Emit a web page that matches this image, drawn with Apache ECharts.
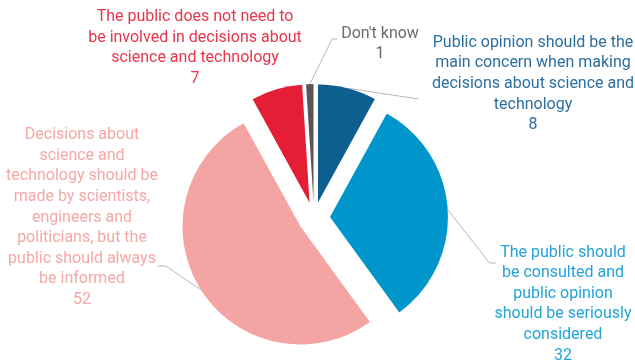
<!DOCTYPE html>
<html>
<head>
<meta charset="utf-8">
<script src="https://cdn.jsdelivr.net/npm/echarts@6/dist/echarts.min.js"></script>
<style>
  html, body { margin: 0; padding: 0; background: #ffffff; }
  #chart { width: 635px; height: 363px; }
</style>
</head>
<body>
<div id="chart"></div>
<script>
// Answer categories (line breaks are how each label wraps)
const categories = [
  'Public opinion should be the\nmain concern when making\ndecisions about science and\ntechnology',
  'The public should\nbe consulted and\npublic opinion\nshould be seriously\nconsidered',
  'Decisions about\nscience and\ntechnology should be\nmade by scientists,\nengineers and\npoliticians, but the\npublic should always\nbe informed',
  'The public does not need to\nbe involved in decisions about\nscience and technology',
  "Don't know"
];
// Share of respondents (%)
const values = [8, 32, 52, 7, 1];

const sliceColors = ['#0d5f8f', '#0096cb', '#f4a5a3', '#e41f35', '#5d5458'];
const textColors  = ['#2b6fa0', '#22a3d9', '#f5a8a6', '#e8354b', '#6b6b6b'];

// Pie geometry
const CENTER = [314, 218];
const RADIUS = 118;
const EXPLODE = 16;
const LINE_H = 20.6;

// Label block centres and leader-line shapes, relative to the label box
const labelPlace = [
  { x: 533, y: 84,    line: (p, r) => [p, [r.x - 13, r.y + r.h * 0.5 + 15]] },
  { x: 563, y: 304,   line: (p, r) => [p, [r.x - 5, r.y + r.h * 0.5 - 41], [r.x + 2, r.y + r.h * 0.5 - 41]] },
  { x: 82,  y: 217.5, line: (p, r) => [p, [r.x + r.w + 8, r.y + r.h * 0.5 + 48.5], [r.x + r.w, r.y + r.h * 0.5 + 48.5]] },
  { x: 195, y: 48,    line: null },
  { x: 380, y: 44,    line: (p, r) => [p, [r.x - 9, r.y + r.h * 0.5 - 5], [r.x - 4, r.y + r.h * 0.5 - 5]] }
];

const total = values.reduce((a, b) => a + b, 0);
let acc = 0;

// One series per slice so every slice is pushed out along its own mid-angle
const series = values.map((v, i) => {
  const mid = (acc + v / 2) / total * Math.PI * 2;
  acc += v;
  const cx = CENTER[0] + EXPLODE * Math.sin(mid);
  const cy = CENTER[1] - EXPLODE * Math.cos(mid);
  return {
    type: 'pie',
    center: [cx, cy],
    radius: RADIUS,
    startAngle: 90,
    clockwise: true,
    avoidLabelOverlap: false,
    silent: true,
    animation: false,
    data: values.map((val, j) => ({
      value: val,
      name: categories[j],
      itemStyle: { color: j === i ? sliceColors[j] : 'rgba(0,0,0,0)', borderWidth: 0 },
      label: {
        show: j === i,
        formatter: '{b}\n{c}',
        color: textColors[j],
        fontFamily: 'Roboto',
        fontSize: 16,
        lineHeight: LINE_H,
        align: 'center'
      },
      labelLine: {
        show: j === i && labelPlace[j].line !== null,
        lineStyle: { color: '#b9b9b9', width: 1 }
      }
    })),
    labelLayout: function (params) {
      if (params.dataIndex !== i) return {};
      const place = labelPlace[i];
      const w = params.labelRect.width;
      const h = params.labelRect.height;
      const r = { x: place.x - w / 2, y: place.y - h / 2, w: w, h: h };
      const out = { x: place.x, y: place.y, align: 'center', verticalAlign: 'middle' };
      if (place.line && params.labelLinePoints) {
        out.labelLinePoints = place.line(params.labelLinePoints[0], r);
      }
      return out;
    }
  };
});

const chart = echarts.init(document.getElementById('chart'), null, { renderer: 'canvas' });
chart.setOption({
  backgroundColor: '#ffffff',
  animation: false,
  series: series
});
</script>
</body>
</html>
